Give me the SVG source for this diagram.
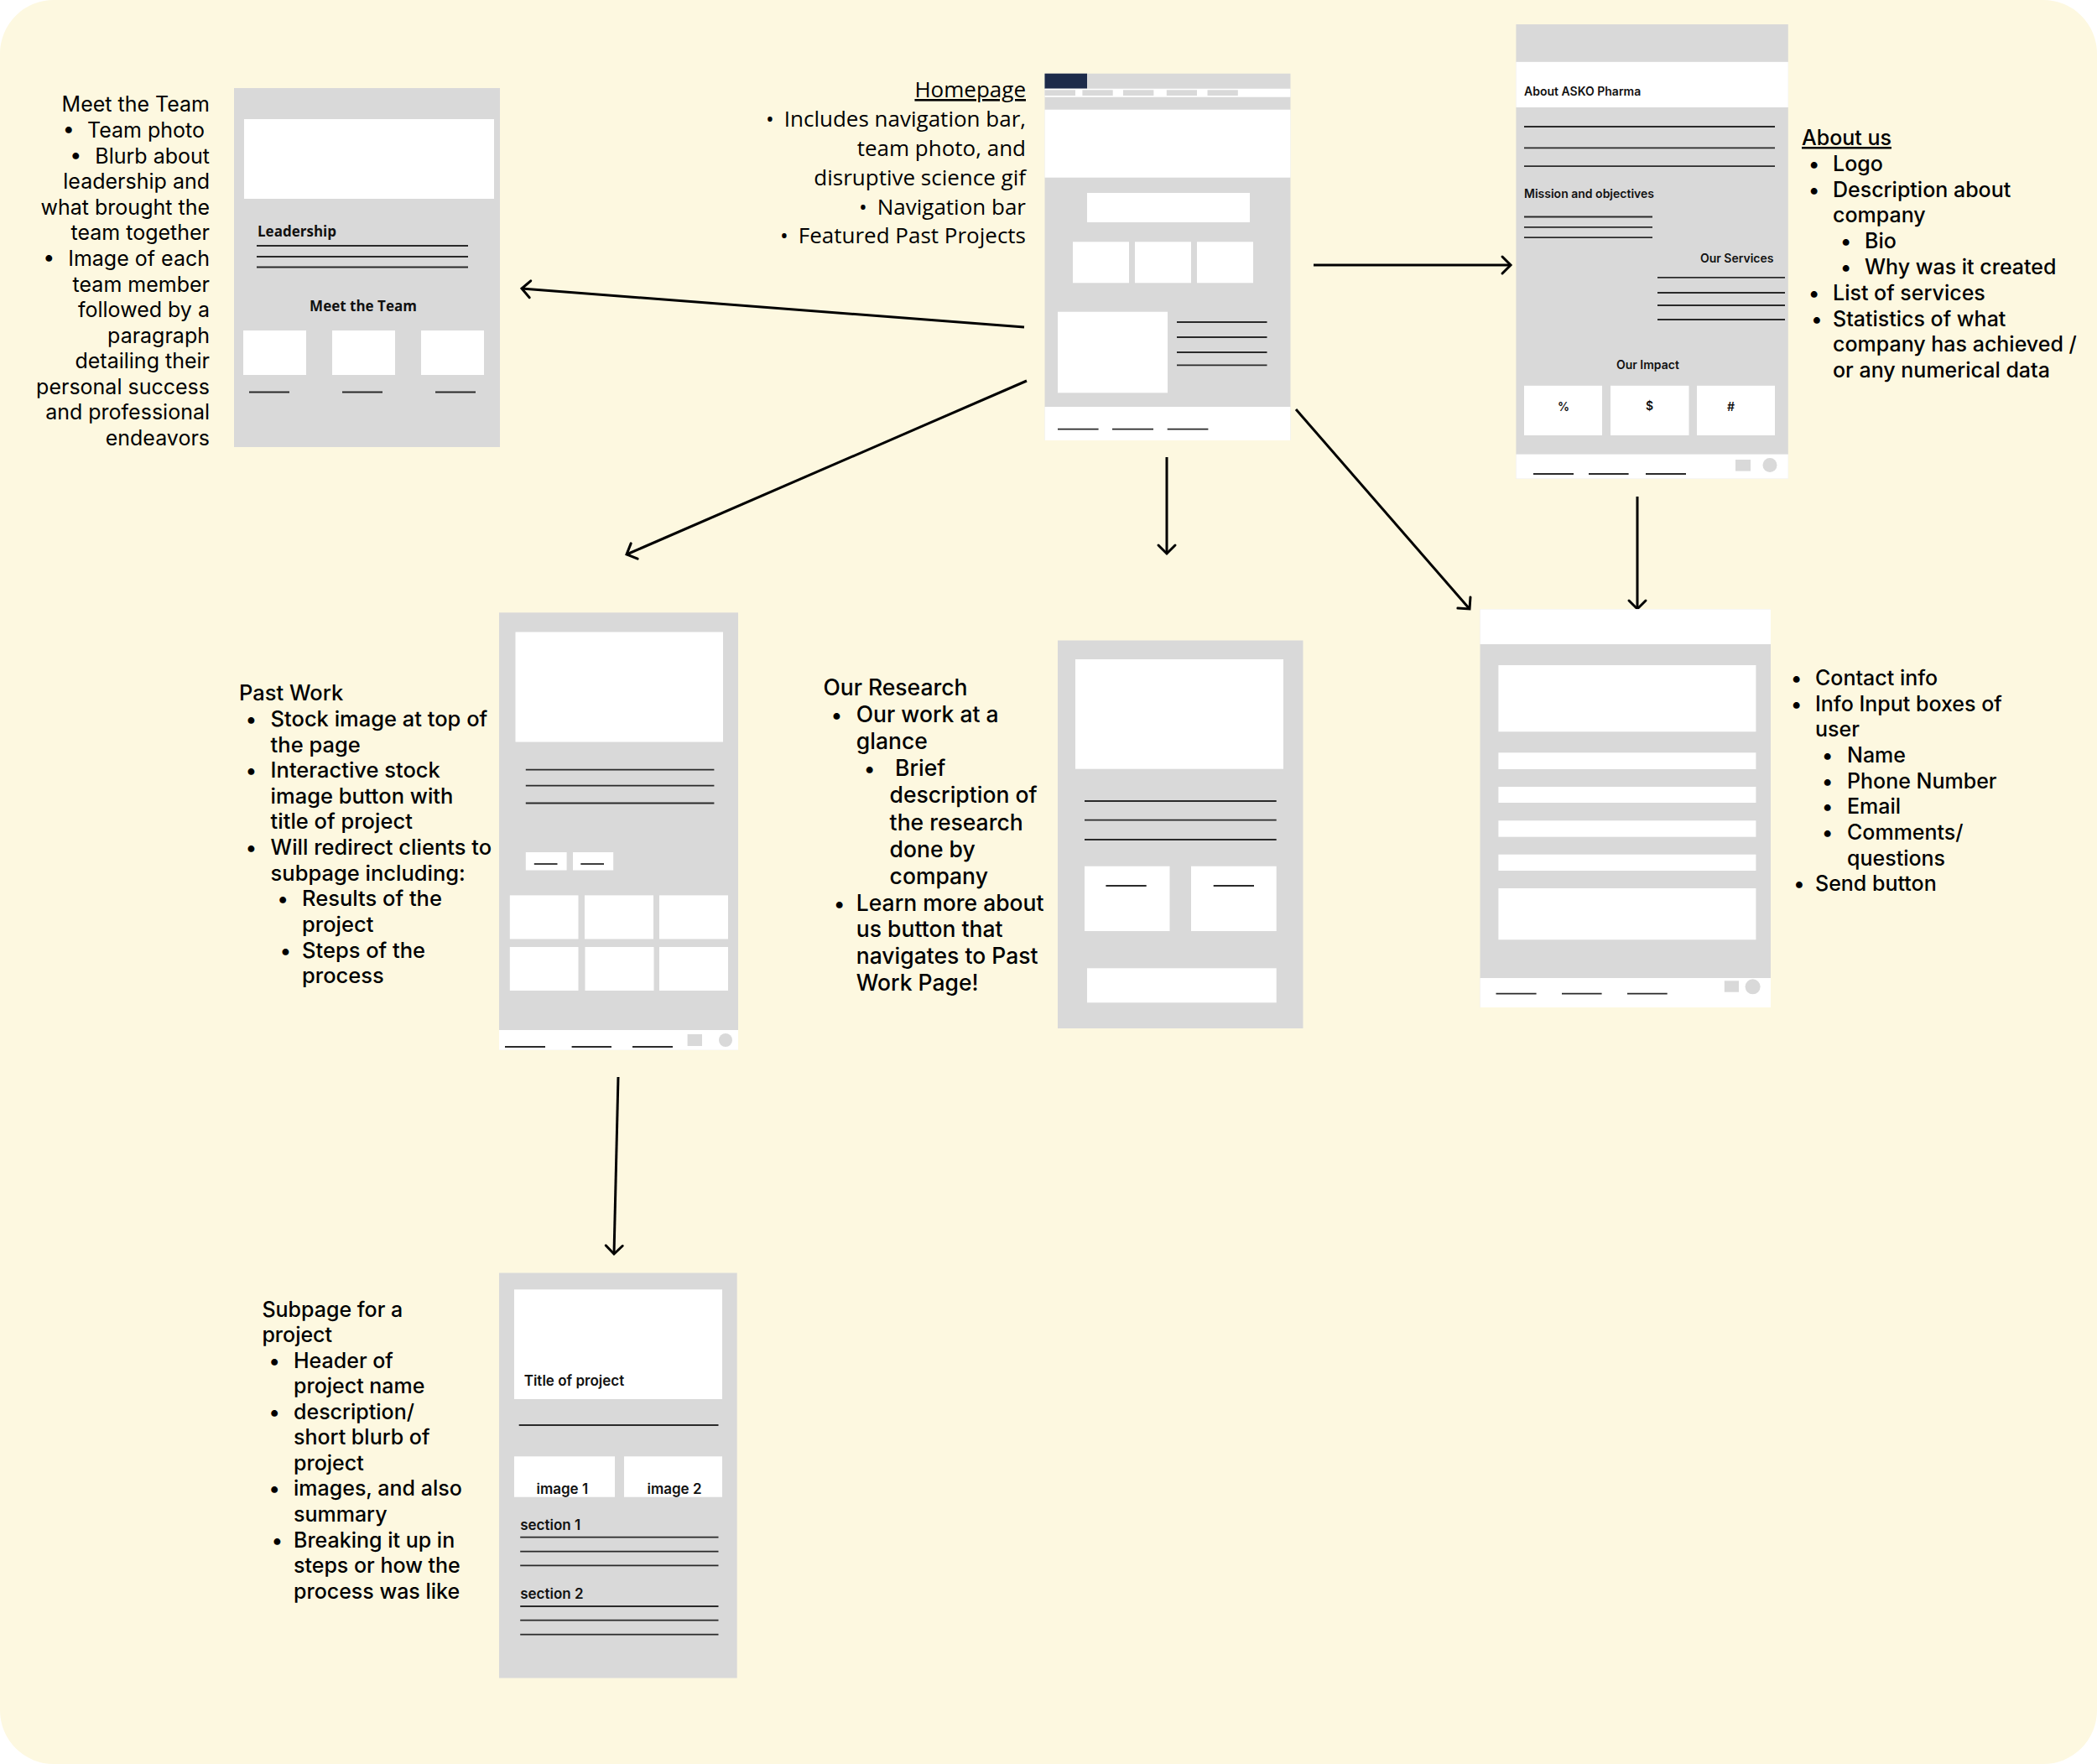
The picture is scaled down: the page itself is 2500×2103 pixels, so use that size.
<svg xmlns="http://www.w3.org/2000/svg" width="2500" height="2103" viewBox="0 0 2500 2103">
<style>
.bg{fill:#FDF8E0}
.wf{fill:#D9D9D9}
.wh{fill:#FFFFFF}
.nv{fill:#1D2B4A}
.ln{stroke:#2A2A2A;stroke-width:1.8;fill:none}
.conn{stroke:#000;stroke-width:3;fill:none;marker-end:url(#arr)}
.d{font-family:Inter,"Liberation Sans",sans-serif;font-size:25px;fill:#000;font-weight:500}
.dr{font-family:Inter,"Liberation Sans",sans-serif;font-size:25px;fill:#000;font-weight:400;text-anchor:end}
.h{font-family:"Open Sans","Liberation Sans",sans-serif;font-size:26px;fill:#000;text-anchor:end}
.b{text-anchor:middle}
.wl{font-family:Inter,"Liberation Sans",sans-serif;font-weight:600;font-size:14px;fill:#111}
.wl2{font-family:"Open Sans","Liberation Sans",sans-serif;font-weight:700;font-size:17px;fill:#111}
.wl3{font-family:Inter,"Liberation Sans",sans-serif;font-weight:600;font-size:17px;fill:#111}
</style>
<defs>
<marker id="arr" markerUnits="userSpaceOnUse" markerWidth="30" markerHeight="30" viewBox="-15 -15 30 30" refX="0" refY="0" orient="auto">
<path d="M-10,-10 L0,0 L-10,10" stroke="#000" stroke-width="3" fill="none" stroke-linecap="round" stroke-linejoin="miter"/>
</marker>
</defs>
<rect x="0" y="0" width="2500" height="2103" fill="#FFFFFF"/>
<rect class="bg" x="0" y="0" width="2500" height="2103" rx="64" ry="64"/>

<g id="connectors">
<line class="conn" x1="1221" y1="390" x2="622" y2="344"/>
<line class="conn" x1="1224" y1="454" x2="747" y2="661"/>
<line class="conn" x1="1391" y1="545" x2="1391" y2="660"/>
<line class="conn" x1="1545" y1="488" x2="1752" y2="726"/>
<line class="conn" x1="1566" y1="316" x2="1801" y2="316"/>
<line class="conn" x1="1952" y1="592" x2="1952" y2="726"/>
<line class="conn" x1="737" y1="1284" x2="732" y2="1495"/>
</g>

<g id="meet-team">
<text class="dr" x="250" y="133">Meet the Team</text>
<text class="dr" x="244" y="164">•<tspan dx="16">Team photo</tspan></text>
<text class="dr" x="250" y="194.5">•<tspan dx="16">Blurb about</tspan></text>
<text class="dr" x="250" y="225">leadership and</text>
<text class="dr" x="250" y="255.7">what brought the</text>
<text class="dr" x="250" y="286.3">team together</text>
<text class="dr" x="250" y="317">•<tspan dx="16">Image of each</tspan></text>
<text class="dr" x="250" y="347.5">team member</text>
<text class="dr" x="250" y="378">followed by a</text>
<text class="dr" x="250" y="408.6">paragraph</text>
<text class="dr" x="250" y="439.2">detailing their</text>
<text class="dr" x="250" y="469.8">personal success</text>
<text class="dr" x="250" y="500.4">and professional</text>
<text class="dr" x="250" y="531">endeavors</text>
<rect class="wf" x="279" y="105" width="317" height="428"/>
<rect class="wh" x="291" y="142" width="298" height="95"/>
<text class="wl2" x="307" y="282">Leadership</text>
<line class="ln" x1="306" y1="293" x2="558" y2="293"/>
<line class="ln" x1="306" y1="306" x2="558" y2="306"/>
<line class="ln" x1="306" y1="318.5" x2="558" y2="318.5"/>
<text class="wl2" x="433" y="371" text-anchor="middle">Meet the Team</text>
<rect class="wh" x="290" y="394" width="75" height="53"/>
<rect class="wh" x="396" y="394" width="75" height="53"/>
<rect class="wh" x="502" y="394" width="75" height="53"/>
<line class="ln" x1="297" y1="467.5" x2="345" y2="467.5"/>
<line class="ln" x1="408" y1="467.5" x2="456" y2="467.5"/>
<line class="ln" x1="519" y1="467.5" x2="567" y2="467.5"/>
</g>

<g id="homepage">
<text class="h" x="1223" y="116" text-decoration="underline">Homepage</text>
<text class="h" x="1223" y="151">•<tspan dx="12">Includes navigation bar,</tspan></text>
<text class="h" x="1223" y="186">team photo, and</text>
<text class="h" x="1223" y="220.7">disruptive science gif</text>
<text class="h" x="1223" y="255.5">•<tspan dx="12">Navigation bar</tspan></text>
<text class="h" x="1223" y="290">•<tspan dx="12">Featured Past Projects</tspan></text>
<rect class="wf" x="1245.5" y="87.7" width="293" height="437.3"/>
<rect class="nv" x="1245.5" y="87.7" width="50.5" height="18"/>
<rect class="wh" x="1245.5" y="105.7" width="293" height="10"/>
<rect class="wf" x="1245.5" y="107.3" width="36.5" height="6.7"/>
<rect class="wf" x="1290.4" y="107.3" width="36.3" height="6.7"/>
<rect class="wf" x="1339" y="107.3" width="36.4" height="6.7"/>
<rect class="wf" x="1390.8" y="107.3" width="36.2" height="6.7"/>
<rect class="wf" x="1439.5" y="107.3" width="36.3" height="6.7"/>
<rect class="wh" x="1245.5" y="130.7" width="293" height="81"/>
<rect class="wh" x="1296" y="230" width="194" height="35"/>
<rect class="wh" x="1279" y="288.3" width="67" height="49"/>
<rect class="wh" x="1353" y="288.3" width="67" height="49"/>
<rect class="wh" x="1427" y="288.3" width="67" height="49"/>
<rect class="wh" x="1261" y="371.7" width="131" height="96.6"/>
<line class="ln" x1="1403" y1="384" x2="1510.5" y2="384"/>
<line class="ln" x1="1403" y1="402" x2="1510.5" y2="402"/>
<line class="ln" x1="1403" y1="420" x2="1510.5" y2="420"/>
<line class="ln" x1="1403" y1="435.3" x2="1510.5" y2="435.3"/>
<rect class="wh" x="1245.5" y="485" width="293" height="40"/>
<line class="ln" x1="1261" y1="511.7" x2="1309.6" y2="511.7"/>
<line class="ln" x1="1326" y1="511.7" x2="1375" y2="511.7"/>
<line class="ln" x1="1391.7" y1="511.7" x2="1440.4" y2="511.7"/>
</g>

<g id="about-us">
<rect class="wf" x="1807.4" y="29" width="324.4" height="541.7"/>
<rect class="wh" x="1807.4" y="73.8" width="324.4" height="54.2"/>
<text class="wl" x="1817" y="114">About ASKO Pharma</text>
<line class="ln" x1="1817" y1="151" x2="2116" y2="151"/>
<line class="ln" x1="1817" y1="176.3" x2="2116" y2="176.3"/>
<line class="ln" x1="1817" y1="198.1" x2="2116" y2="198.1"/>
<text class="wl" x="1817" y="236.3">Mission and objectives</text>
<line class="ln" x1="1817" y1="258.5" x2="1970" y2="258.5"/>
<line class="ln" x1="1817" y1="270.8" x2="1970" y2="270.8"/>
<line class="ln" x1="1817" y1="283.2" x2="1970" y2="283.2"/>
<text class="wl" x="2114.5" y="313" text-anchor="end">Our Services</text>
<line class="ln" x1="1976" y1="330.8" x2="2128" y2="330.8"/>
<line class="ln" x1="1976" y1="349" x2="2128" y2="349"/>
<line class="ln" x1="1976" y1="364" x2="2128" y2="364"/>
<line class="ln" x1="1976" y1="381" x2="2128" y2="381"/>
<text class="wl" x="1964.4" y="440" text-anchor="middle">Our Impact</text>
<rect class="wh" x="1817" y="459.8" width="93" height="59.2"/>
<rect class="wh" x="1920" y="459.8" width="93.5" height="59.2"/>
<rect class="wh" x="2023" y="459.8" width="93" height="59.2"/>
<text class="wl" x="1864" y="490" text-anchor="middle">%</text>
<text class="wl" x="1966.5" y="489" text-anchor="middle">$</text>
<text class="wl" x="2063.5" y="490" text-anchor="middle">#</text>
<rect class="wh" x="1807.4" y="541.6" width="324.4" height="29.1"/>
<line class="ln" x1="1828" y1="565" x2="1876" y2="565"/>
<line class="ln" x1="1894" y1="565" x2="1941.6" y2="565"/>
<line class="ln" x1="1962" y1="565" x2="2010" y2="565"/>
<rect class="wf" x="2069" y="548" width="18" height="13.6"/>
<circle class="wf" cx="2110" cy="554.5" r="8.5"/>
<text class="d">
<tspan x="2148" y="173" text-decoration="underline">About us</tspan>
<tspan x="2185" y="203.6">Logo</tspan>
<tspan x="2185" y="234.5">Description about</tspan>
<tspan x="2185" y="265.4">company</tspan>
<tspan x="2223" y="296.3">Bio</tspan>
<tspan x="2223" y="327">Why was it created</tspan>
<tspan x="2185" y="358">List of services</tspan>
<tspan x="2185" y="388.7">Statistics of what</tspan>
<tspan x="2185" y="419.4">company has achieved /</tspan>
<tspan x="2185" y="450">or any numerical data</tspan>
</text>
<text class="d b">
<tspan x="2166" y="203.6">•</tspan>
<tspan x="2166" y="234.5">•</tspan>
<tspan x="2204" y="296.3">•</tspan>
<tspan x="2204" y="327">•</tspan>
<tspan x="2166" y="358">•</tspan>
<tspan x="2166" y="388.7">•</tspan>
</text>
</g>

<g id="past-work">
<text class="d" style="font-size:25.5px">
<tspan x="285" y="835.2">Past Work</tspan>
<tspan x="322.6" y="866">Stock image at top of</tspan>
<tspan x="322.6" y="896.6">the page</tspan>
<tspan x="322.6" y="927.2">Interactive stock</tspan>
<tspan x="322.6" y="957.8">image button with</tspan>
<tspan x="322.6" y="988.4">title of project</tspan>
<tspan x="322.6" y="1019">Will redirect clients to</tspan>
<tspan x="322.6" y="1049.6">subpage including:</tspan>
<tspan x="360" y="1080.2">Results of the</tspan>
<tspan x="360" y="1110.8">project</tspan>
<tspan x="360" y="1141.5">Steps of the</tspan>
<tspan x="360" y="1172.2">process</tspan>
</text>
<text class="d b">
<tspan x="302.7" y="866">•</tspan>
<tspan x="302.7" y="927.2">•</tspan>
<tspan x="302.7" y="1019">•</tspan>
<tspan x="340.4" y="1080.2">•</tspan>
<tspan x="340.4" y="1141.5">•</tspan>
</text>
<rect class="wf" x="595" y="730.3" width="285" height="521.5"/>
<rect class="wh" x="614.5" y="753.5" width="247.5" height="131"/>
<line class="ln" x1="626.8" y1="917.6" x2="851.4" y2="917.6"/>
<line class="ln" x1="626.8" y1="936.7" x2="851.4" y2="936.7"/>
<line class="ln" x1="626.8" y1="957.5" x2="851.4" y2="957.5"/>
<rect class="wh" x="626.8" y="1016" width="48.8" height="21.5"/>
<rect class="wh" x="683" y="1016" width="48.2" height="21.5"/>
<line class="ln" x1="636.8" y1="1030" x2="664.5" y2="1030"/>
<line class="ln" x1="692.3" y1="1030" x2="720" y2="1030"/>
<rect class="wh" x="607.8" y="1067.4" width="81.7" height="52.1"/>
<rect class="wh" x="697" y="1067.4" width="82" height="52.1"/>
<rect class="wh" x="786" y="1067.4" width="82" height="52.1"/>
<rect class="wh" x="607.8" y="1129" width="81.7" height="52"/>
<rect class="wh" x="697.5" y="1129" width="82" height="52"/>
<rect class="wh" x="786" y="1129" width="82" height="52"/>
<rect class="wh" x="595" y="1228" width="285" height="23.8"/>
<line class="ln" x1="602" y1="1248" x2="650" y2="1248"/>
<line class="ln" x1="681.6" y1="1248" x2="729" y2="1248"/>
<line class="ln" x1="754" y1="1248" x2="802" y2="1248"/>
<rect class="wf" x="819.6" y="1233" width="17.4" height="14"/>
<circle class="wf" cx="865" cy="1240" r="8"/>
</g>

<g id="our-research">
<text class="d" style="font-size:26.5px">
<tspan x="981.4" y="829">Our Research</tspan>
<tspan x="1020.8" y="861">Our work at a</tspan>
<tspan x="1020.8" y="893">glance</tspan>
<tspan x="1067" y="925">Brief</tspan>
<tspan x="1060.6" y="957.3">description of</tspan>
<tspan x="1060.6" y="989.5">the research</tspan>
<tspan x="1060.6" y="1021.7">done by</tspan>
<tspan x="1060.6" y="1053.5">company</tspan>
<tspan x="1020.8" y="1085.5">Learn more about</tspan>
<tspan x="1020.8" y="1117">us button that</tspan>
<tspan x="1020.8" y="1149">navigates to Past</tspan>
<tspan x="1020.8" y="1180.7">Work Page!</tspan>
</text>
<text class="d b">
<tspan x="1000.7" y="861">•</tspan>
<tspan x="1040" y="925">•</tspan>
<tspan x="1000.7" y="1085.5">•</tspan>
</text>
<rect class="wf" x="1261" y="763.5" width="292.5" height="462.5"/>
<rect class="wh" x="1282" y="786" width="248" height="130.7"/>
<line class="ln" x1="1293" y1="955" x2="1521.7" y2="955"/>
<line class="ln" x1="1293" y1="977.7" x2="1521.7" y2="977.7"/>
<line class="ln" x1="1293" y1="1001" x2="1521.7" y2="1001"/>
<rect class="wh" x="1293" y="1032.7" width="101.5" height="77.3"/>
<rect class="wh" x="1420" y="1032.7" width="101.7" height="77.3"/>
<line class="ln" x1="1318.4" y1="1056" x2="1366.7" y2="1056"/>
<line class="ln" x1="1446.7" y1="1056" x2="1495" y2="1056"/>
<rect class="wh" x="1296" y="1154.3" width="225.7" height="41"/>
</g>

<g id="contact">
<rect class="wf" x="1764.5" y="726.3" width="346.5" height="474.7"/>
<rect class="wh" x="1764.5" y="726.3" width="346.5" height="41.7"/>
<rect class="wh" x="1786.4" y="793" width="307" height="79.3"/>
<rect class="wh" x="1786.4" y="897.3" width="307" height="19.7"/>
<rect class="wh" x="1786.4" y="938" width="307" height="19"/>
<rect class="wh" x="1786.4" y="978.3" width="307" height="19.4"/>
<rect class="wh" x="1786.4" y="1018.7" width="307" height="19.3"/>
<rect class="wh" x="1786.4" y="1059" width="307" height="61.3"/>
<rect class="wh" x="1764.5" y="1166" width="346.5" height="35"/>
<line class="ln" x1="1783.5" y1="1184.7" x2="1831.6" y2="1184.7"/>
<line class="ln" x1="1862" y1="1184.7" x2="1909.6" y2="1184.7"/>
<line class="ln" x1="1940" y1="1184.7" x2="1987.7" y2="1184.7"/>
<rect class="wf" x="2055.8" y="1169.3" width="17.2" height="13.4"/>
<circle class="wf" cx="2089.6" cy="1176.3" r="9"/>
<text class="d">
<tspan x="2164" y="817">Contact info</tspan>
<tspan x="2164" y="847.7">Info Input boxes of</tspan>
<tspan x="2164" y="878.3">user</tspan>
<tspan x="2202" y="909.2">Name</tspan>
<tspan x="2202" y="939.8">Phone Number</tspan>
<tspan x="2202" y="970.4">Email</tspan>
<tspan x="2202" y="1001">Comments/</tspan>
<tspan x="2202" y="1031.5">questions</tspan>
<tspan x="2164" y="1062">Send button</tspan>
</text>
<text class="d b">
<tspan x="2145" y="817">•</tspan>
<tspan x="2145" y="847.7">•</tspan>
<tspan x="2182" y="909.2">•</tspan>
<tspan x="2182" y="939.8">•</tspan>
<tspan x="2182" y="970.4">•</tspan>
<tspan x="2182" y="1001">•</tspan>
<tspan x="2145" y="1062">•</tspan>
</text>
</g>

<g id="subpage">
<text class="d">
<tspan x="312.4" y="1570">Subpage for a</tspan>
<tspan x="312.4" y="1600.3">project</tspan>
<tspan x="350" y="1630.8">Header of</tspan>
<tspan x="350" y="1661.3">project name</tspan>
<tspan x="350" y="1691.8">description/</tspan>
<tspan x="350" y="1722.3">short blurb of</tspan>
<tspan x="350" y="1752.8">project</tspan>
<tspan x="350" y="1783.4">images, and also</tspan>
<tspan x="350" y="1814">summary</tspan>
<tspan x="350" y="1844.7">Breaking it up in</tspan>
<tspan x="350" y="1875.4">steps or how the</tspan>
<tspan x="350" y="1905.8">process was like</tspan>
</text>
<text class="d b">
<tspan x="330.5" y="1630.8">•</tspan>
<tspan x="330.5" y="1691.8">•</tspan>
<tspan x="330.5" y="1783.4">•</tspan>
<tspan x="330.5" y="1844.7">•</tspan>
</text>
<rect class="wf" x="595" y="1517.5" width="283.7" height="483"/>
<rect class="wh" x="613" y="1537.3" width="248" height="130.7"/>
<text class="wl3" x="624.7" y="1652.3">Title of project</text>
<line class="ln" x1="618.7" y1="1699" x2="856.5" y2="1699"/>
<rect class="wh" x="613" y="1736.3" width="120" height="48.4"/>
<rect class="wh" x="744" y="1736.3" width="117" height="48.4"/>
<text class="wl3" x="670.3" y="1780.7" text-anchor="middle">image 1</text>
<text class="wl3" x="804" y="1780.7" text-anchor="middle">image 2</text>
<text class="wl3" x="620.2" y="1824">section 1</text>
<line class="ln" x1="620.2" y1="1832.7" x2="856.5" y2="1832.7"/>
<line class="ln" x1="620.2" y1="1849.7" x2="856.5" y2="1849.7"/>
<line class="ln" x1="620.2" y1="1866.3" x2="856.5" y2="1866.3"/>
<text class="wl3" x="620.2" y="1906.3">section 2</text>
<line class="ln" x1="620.2" y1="1915" x2="856.5" y2="1915"/>
<line class="ln" x1="620.2" y1="1931.7" x2="856.5" y2="1931.7"/>
<line class="ln" x1="620.2" y1="1948.7" x2="856.5" y2="1948.7"/>
</g>
</svg>
